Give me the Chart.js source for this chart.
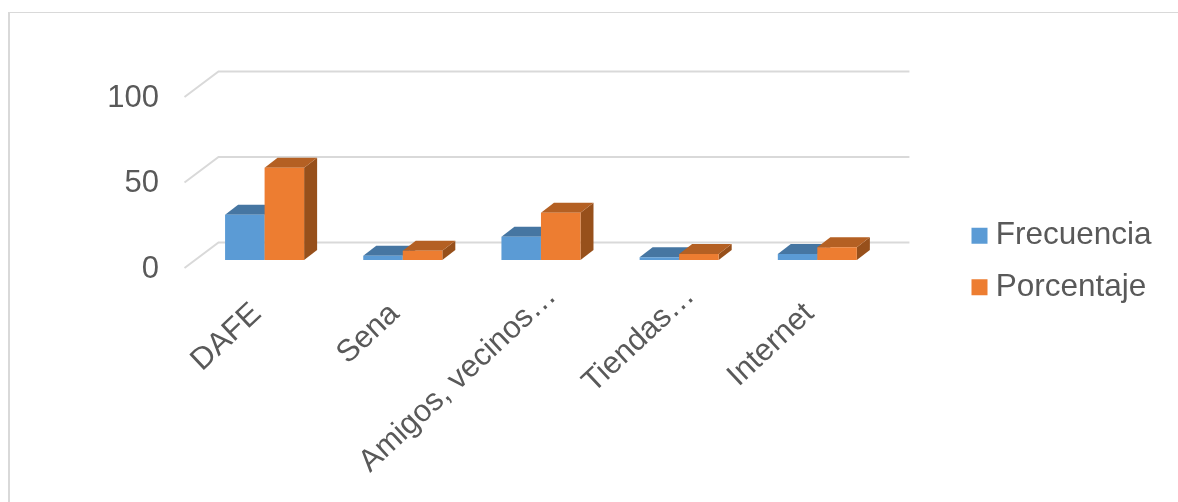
<!DOCTYPE html>
<html>
<head>
<meta charset="utf-8">
<script src="https://cdn.jsdelivr.net/npm/chart.js@4"></script>
<style>
  html, body { margin: 0; padding: 0; background: #fff; overflow: hidden; }
  #frame { position: absolute; left: 8px; top: 12px; width: 1300px; height: 600px; border: 1px solid #d9d9d9; border-left-width: 2px; }
  #chart { position: absolute; left: 0; top: 0; }
</style>
</head>
<body>
<div id="frame"></div>
<canvas id="chart" width="1178" height="502"></canvas>
<script>
const categories = ["DAFE", "Sena", "Amigos, vecinos…", "Tiendas…", "Internet"];
const frecuencia = [26.5, 2.5, 13.6, 1.6, 3.5];
const porcentaje = [54, 5.4, 27.7, 3.5, 7.4];
const yTicks = [0, 50, 100];

const TEXT = "#595959";
const FONT = "'Liberation Sans', Arial, sans-serif";

// offsets of the fake 3D box, relative to the plane the bars stand on
const wall = { dx: 23, dy: -17.5 };
const front = { dx: -11, dy: 8 };
const depth = { dx: 13, dy: -10 };

// the short labels sit further down the diagonal than the truncated ones
const labelNudge = [3, 3, 0, 0, 3];

function poly(ctx, color, pts) {
  ctx.fillStyle = color;
  ctx.beginPath();
  pts.forEach(([x, y], i) => (i ? ctx.lineTo(x, y) : ctx.moveTo(x, y)));
  ctx.closePath();
  ctx.fill();
}

function drawFaces(ctx, meta, ds) {
  meta.data.forEach(bar => {
    const { x, y, base, width } = bar.getProps(["x", "y", "base", "width"], true);
    const l = x - width / 2, r = x + width / 2;
    poly(ctx, ds.sideColor, [[r, y], [r + depth.dx, y + depth.dy], [r + depth.dx, base + depth.dy], [r, base]]);
    poly(ctx, ds.topColor, [[l, y], [l + depth.dx, y + depth.dy], [r + depth.dx, y + depth.dy], [r, y]]);
  });
}

const box3d = {
  id: "box3d",
  afterLayout(chart) {
    // legend sits well clear of the back wall
    const lg = chart.legend;
    const pad = lg.options.labels.padding;
    const w = lg.right - lg.left, h = lg.bottom - lg.top;
    lg.left = 979 - pad;
    lg.right = lg.left + w;
    lg.top = 220 - pad;
    lg.bottom = lg.top + h;
  },
  beforeDatasetsDraw(chart) {
    const { ctx, chartArea: area, scales: { y } } = chart;
    ctx.save();
    ctx.strokeStyle = "#d9d9d9";
    ctx.lineWidth = 2;
    yTicks.forEach(v => {
      const py = y.getPixelForValue(v);
      ctx.beginPath();
      ctx.moveTo(area.left + front.dx, py + front.dy);
      ctx.lineTo(area.left + wall.dx, py + wall.dy);
      ctx.lineTo(area.right + wall.dx, py + wall.dy);
      ctx.stroke();
    });
    ctx.restore();
  },
  beforeDatasetDraw(chart, args) {
    const ds = chart.data.datasets[args.index];
    // orange has to land on top of blue, so it is painted afterwards
    if (args.index === 1) return false;
    drawFaces(chart.ctx, args.meta, ds);
  },
  afterDatasetsDraw(chart) {
    const meta = chart.getDatasetMeta(1);
    drawFaces(chart.ctx, meta, chart.data.datasets[1]);
    meta.data.forEach(bar => bar.draw(chart.ctx));
  }
};

new Chart(document.getElementById("chart"), {
  type: "bar",
  data: {
    labels: categories,
    datasets: [
      { label: "Frecuencia", data: frecuencia, backgroundColor: "#5b9bd5", topColor: "#4676a2", sideColor: "#3e6a93" },
      { label: "Porcentaje", data: porcentaje, backgroundColor: "#ed7d31", topColor: "#b46023", sideColor: "#97501b" }
    ]
  },
  options: {
    responsive: false,
    animation: false,
    layout: { padding: { top: 89, right: 89 } },
    datasets: { bar: { barPercentage: 1, categoryPercentage: 0.572 } },
    plugins: {
      tooltip: { enabled: false },
      legend: {
        position: "right",
        align: "start",
        labels: {
          usePointStyle: true,
          pointStyle: "rect",
          boxWidth: 1,
          boxHeight: 16,
          padding: 20,
          color: TEXT,
          font: { family: FONT, size: 31.5 }
        }
      }
    },
    scales: {
      x: {
        grid: { display: false },
        border: { display: false },
        afterFit: s => { s.height = 242; },
        ticks: {
          autoSkip: false,
          minRotation: 43,
          maxRotation: 43,
          padding: 10,
          labelOffset: 11,
          color: TEXT,
          font: { family: FONT, size: 31 },
          callback: (v, i) => categories[i] + " ".repeat(labelNudge[i])
        }
      },
      y: {
        min: 0,
        max: 100,
        grid: { display: false, drawTicks: false },
        border: { display: false },
        afterFit: s => { s.width = 195.5; },
        afterBuildTicks: s => { s.ticks = yTicks.map(value => ({ value })); },
        ticks: {
          padding: 36.5,
          labelOffset: 9,
          color: TEXT,
          font: { family: FONT, size: 31 }
        }
      }
    }
  },
  plugins: [box3d]
});
</script>
</body>
</html>
